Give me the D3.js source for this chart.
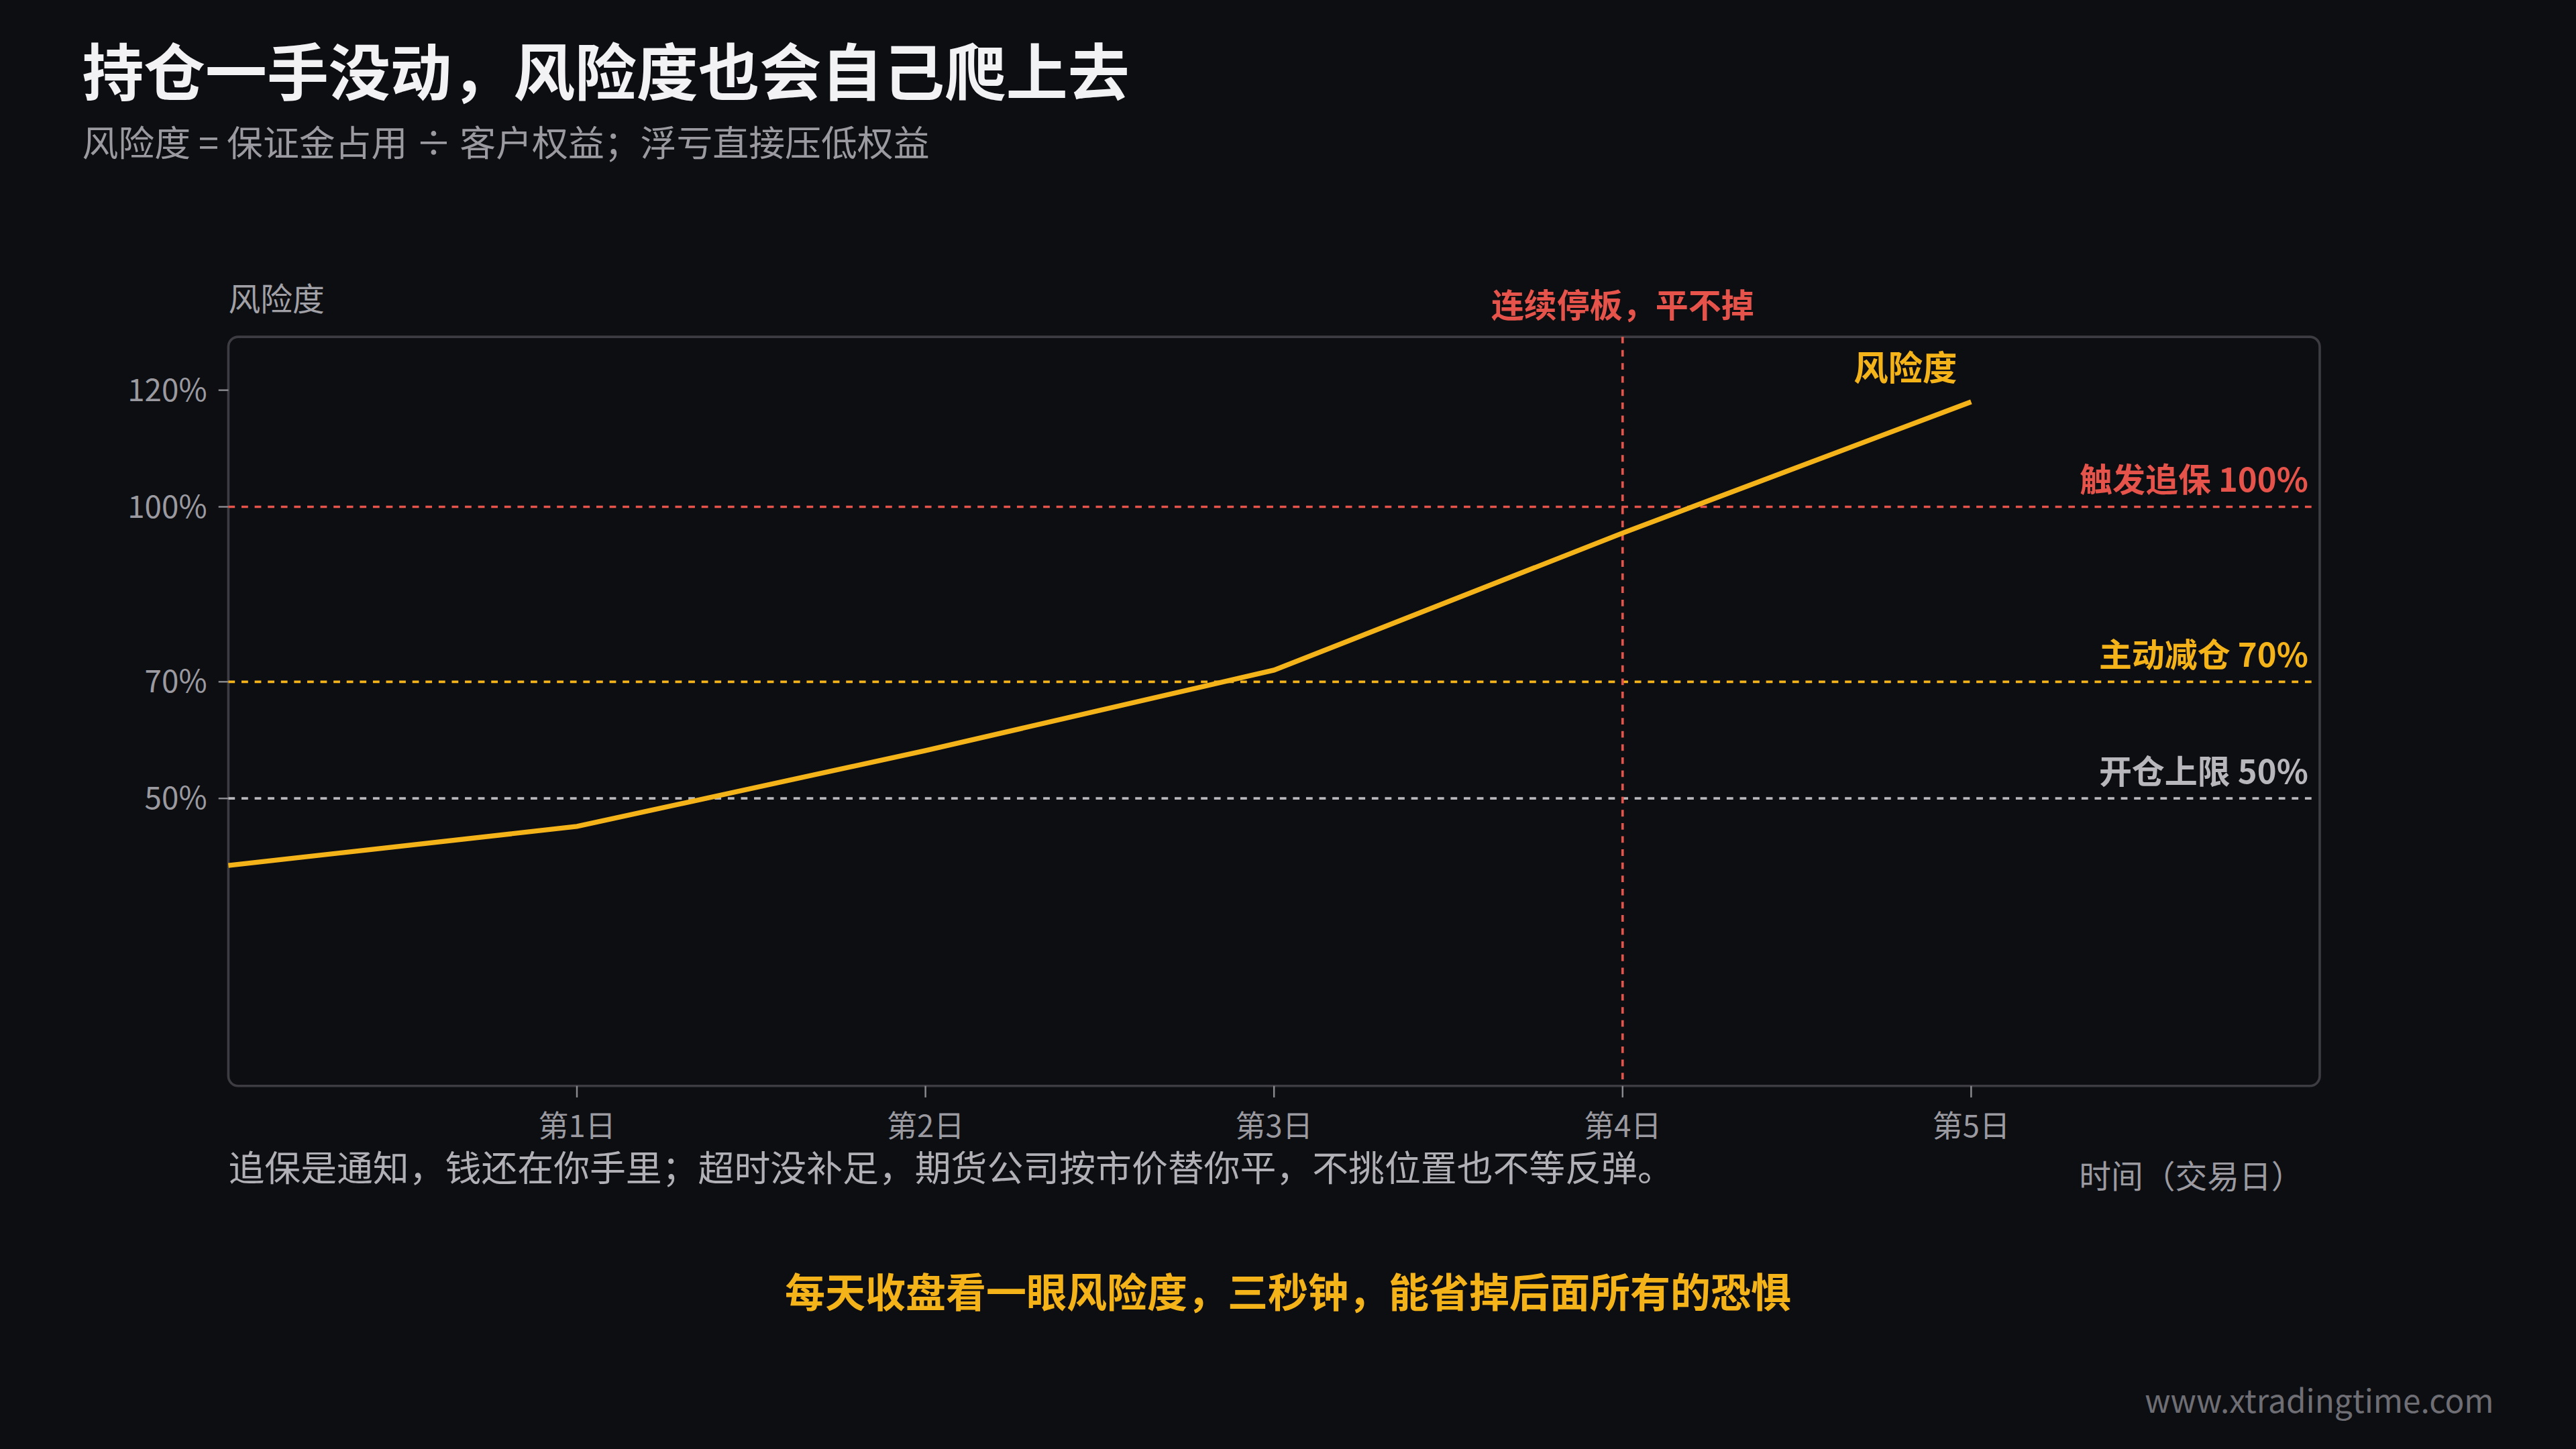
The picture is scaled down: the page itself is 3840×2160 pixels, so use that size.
<!DOCTYPE html>
<html><head><meta charset="utf-8">
<script src="https://cdn.jsdelivr.net/npm/d3@7"></script>
<style>html,body{margin:0;background:#0d0e12;}svg{display:block;}</style>
</head><body>
<svg id="c" width="3840" height="2160" viewBox="0 0 1568 882"></svg>
<script>
const days = [0,1,2,3,4,5];
const dayLabels = ["","第1日","第2日","第3日","第4日","第5日"];
const risk = [38.5,45.2,58.2,72,95.5,118];
const yTicks = [50,70,100,120];
const refLines = [
  {v:100,label:"触发追保 100%",color:"#e5534b"},
  {v:70,label:"主动减仓 70%",color:"#f5b31a"},
  {v:50,label:"开仓上限 50%",color:"#b8b8bc"}
];
const F = "'Noto Sans CJK SC','Noto Sans',sans-serif";
const svg = d3.select("#c");
svg.append("rect").attr("width",1568).attr("height",882).attr("fill","#0d0e12");
const L=139,R=1412,T=205,B=661;
const x = d3.scaleLinear().domain([0,6]).range([L,R]);
const y = d3.scaleLinear().domain([0,130]).range([663.5,202]);
svg.append("text").attr("x",50).attr("y",58).attr("fill","#f2f2f4").attr("font-family",F).attr("font-weight",700).attr("font-size",37.5).text("持仓一手没动，风险度也会自己爬上去");
svg.append("text").attr("x",50).attr("y",95).attr("fill","#9a9aa0").attr("font-family",F).attr("font-size",22).text("风险度 = 保证金占用 ÷ 客户权益；浮亏直接压低权益");
svg.append("text").attr("x",139).attr("y",189).attr("fill","#a0a0a6").attr("font-family",F).attr("font-size",19.5).text("风险度");
svg.append("rect").attr("x",L).attr("y",T).attr("width",R-L).attr("height",B-T).attr("rx",6).attr("fill","none").attr("stroke","#3c3c42").attr("stroke-width",1.5);
yTicks.forEach(t=>{
  svg.append("line").attr("x1",L-6).attr("x2",L).attr("y1",y(t)).attr("y2",y(t)).attr("stroke","#8a8a90");
  svg.append("text").attr("x",L-13).attr("y",y(t)).attr("dy","0.35em").attr("text-anchor","end").attr("fill","#9a9aa0").attr("font-family",F).attr("font-size",18.7).text(t+"%");
});
days.slice(1).forEach(d=>{
  svg.append("line").attr("x1",x(d)).attr("x2",x(d)).attr("y1",B).attr("y2",B+7).attr("stroke","#8a8a90");
  svg.append("text").attr("x",x(d)).attr("y",B+31).attr("text-anchor","middle").attr("fill","#9a9aa0").attr("font-family",F).attr("font-size",18.5).text(dayLabels[d]);
});
refLines.forEach(r=>{
  svg.append("line").attr("x1",L).attr("x2",R-4).attr("y1",y(r.v)).attr("y2",y(r.v)).attr("stroke",r.color).attr("stroke-width",1.5).attr("stroke-dasharray","4,4");
  svg.append("text").attr("x",R-7).attr("y",y(r.v)-9).attr("text-anchor","end").attr("fill",r.color).attr("font-family",F).attr("font-weight",700).attr("font-size",20).text(r.label);
});
svg.append("line").attr("x1",x(4)).attr("x2",x(4)).attr("y1",T).attr("y2",B).attr("stroke","#e5534b").attr("stroke-width",1.5).attr("stroke-dasharray","4,4");
svg.append("text").attr("x",x(4)).attr("y",193).attr("text-anchor","middle").attr("fill","#e5534b").attr("font-family",F).attr("font-weight",700).attr("font-size",20).text("连续停板，平不掉");
svg.append("path").datum(days).attr("fill","none").attr("stroke","#f5b31a").attr("stroke-width",3)
  .attr("d",d3.line().x(d=>x(d)).y(d=>y(risk[d])));
svg.append("text").attr("x",x(5)-40).attr("y",y(risk[5])-13).attr("text-anchor","middle").attr("fill","#f5b31a").attr("font-family",F).attr("font-weight",700).attr("font-size",21).text("风险度");
svg.append("text").attr("x",139).attr("y",719).attr("fill","#b0b0b6").attr("font-family",F).attr("font-size",22).text("追保是通知，钱还在你手里；超时没补足，期货公司按市价替你平，不挑位置也不等反弹。");
svg.append("text").attr("x",1402).attr("y",723).attr("text-anchor","end").attr("fill","#9a9aa0").attr("font-family",F).attr("font-size",19.5).text("时间（交易日）");
svg.append("text").attr("x",784).attr("y",796).attr("text-anchor","middle").attr("fill","#f5b31a").attr("font-family",F).attr("font-weight",700).attr("font-size",24.5).text("每天收盘看一眼风险度，三秒钟，能省掉后面所有的恐惧");
svg.append("text").attr("x",1518).attr("y",860).attr("text-anchor","end").attr("fill","#6e6e74").attr("font-family",F).attr("font-size",19.5).text("www.xtradingtime.com");
</script>
</body></html>
